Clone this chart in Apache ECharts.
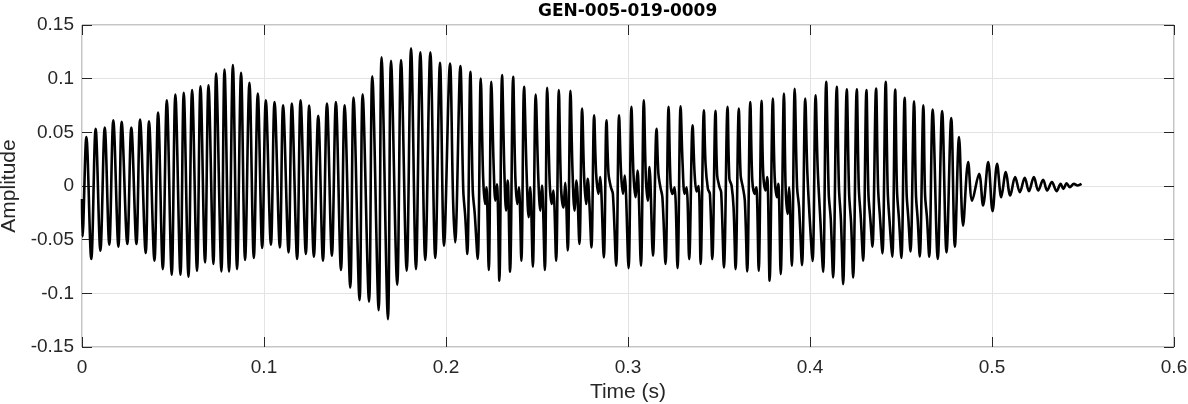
<!DOCTYPE html>
<html>
<head>
<meta charset="utf-8">
<script src="https://cdn.jsdelivr.net/npm/echarts@6/dist/echarts.min.js"></script>
<style>
  html, body { margin: 0; padding: 0; background: #fff; }
  #chart { width: 1188px; height: 404px; }
</style>
</head>
<body>
<div id="chart"></div>
<script>
// waveform, [time (s), amplitude], split by segment
const onset = [
  [0, -0.012], [0.0003, -0.047], [0.0024, 0.0456], [0.0051, -0.068], [0.0075, 0.0534],
  [0.0101, -0.0603], [0.0125, 0.0544], [0.0150, -0.0547], [0.0172, 0.0612], [0.0200, -0.0565],
  [0.0218, 0.0597], [0.0249, -0.054], [0.0271, 0.0544], [0.0299, -0.054], [0.0319, 0.0618],
  [0.0350, -0.0625], [0.0368, 0.0603], [0.0398, -0.0696], [0.0418, 0.0684], [0.0444, -0.0774],
  [0.0466, 0.0799], [0.0493, -0.0827], [0.0513, 0.0852], [0.0541, -0.0827], [0.0559, 0.0868],
  [0.0585, -0.0846], [0.0605, 0.0893], [0.0632, -0.079], [0.0651, 0.093], [0.0676, -0.0712],
  [0.0695, 0.0939], [0.0722, -0.0727], [0.0737, 0.1048], [0.0766, -0.0796], [0.0783, 0.1086],
  [0.0808, -0.0796], [0.0829, 0.1126], [0.0852, -0.0774], [0.0874, 0.1055], [0.0896, -0.069],
  [0.0920, 0.0961], [0.0944, -0.0671], [0.0966, 0.0861]
];

const swell = [
  [0.0990, -0.0578], [0.1010, 0.0799], [0.1038, -0.0547], [0.1058, 0.0783], [0.1087, -0.0572],
  [0.1105, 0.0752], [0.1135, -0.0618], [0.1153, 0.0768], [0.1182, -0.068], [0.1201, 0.0799],
  [0.1230, -0.0634], [0.1248, 0.0749], [0.1274, -0.0659], [0.1298, 0.0653], [0.1324, -0.0696],
  [0.1346, 0.0768], [0.1373, -0.065], [0.1395, 0.0783], [0.1423, -0.0783], [0.1443, 0.0752],
  [0.1474, -0.0946], [0.1492, 0.0824], [0.1525, -0.1064], [0.1542, 0.0855], [0.1577, -0.1077],
  [0.1595, 0.1023], [0.1630, -0.1157], [0.1646, 0.1198], [0.1681, -0.124], [0.1698, 0.1167],
  [0.1732, -0.0921], [0.1753, 0.1173], [0.1784, -0.079], [0.1808, 0.1282], [0.1835, -0.0774],
  [0.1859, 0.1245], [0.1886, -0.069]
];

const middleA = [
  [0.1914, 0.1245], [0.1941, -0.0671], [0.1967, 0.1148], [0.1989, -0.0556], [0.2022, 0.1142],
  [0.2039, -0.0136], [0.2050, -0.0525], [0.2079, 0.1117], [0.2095, -0.0042], [0.2106, -0.029],
  [0.2117, -0.0634], [0.2134, 0.1064], [0.2147, -0.004], [0.2158, -0.0261], [0.2174, -0.068],
  [0.2191, 0.1002], [0.2204, 0.0083], [0.2215, -0.0168], [0.2222, -0.0011], [0.2235, -0.0783],
  [0.2249, 0.097], [0.2262, 0.0176], [0.2271, -0.0136], [0.2280, 0.0017], [0.2293, -0.0883],
  [0.2308, 0.1033], [0.2321, 0.0114], [0.2330, -0.0229], [0.2339, 0.0051], [0.2352, -0.0799],
  [0.2369, 0.1017], [0.2381, 0.0083], [0.2392, -0.0168], [0.2401, -0.0011], [0.2414, -0.0696],
  [0.2429, 0.0924], [0.2443, 0.0114], [0.2454, -0.029], [0.2463, -0.0011], [0.2477, -0.0752],
  [0.2493, 0.0852], [0.2507, 0.0083], [0.2518, -0.0229], [0.2527, 0.0005], [0.2543, -0.0783],
  [0.2556, 0.0914], [0.2570, 0.002], [0.2581, -0.0168], [0.2590, -0.0042], [0.2605, -0.0696],
  [0.2620, 0.0893], [0.2632, -0.0011], [0.2645, -0.02], [0.2655, 0.003], [0.2669, -0.06]
];

const middleB = [
  [0.2684, 0.0886], [0.2695, 0.0145], [0.2706, -0.0229], [0.2717, 0.0051], [0.2733, -0.054],
  [0.2748, 0.0721], [0.2759, 0.0083], [0.2770, -0.0168], [0.2779, 0.0067], [0.2788, -0.0168],
  [0.2799, -0.0572], [0.2814, 0.0659], [0.2825, 0.0114], [0.2838, -0.0073], [0.2847, 0.0083],
  [0.2867, -0.0665], [0.2882, 0.0612], [0.2893, 0.0114], [0.2906, -0.0011], [0.2917, -0.0073],
  [0.2935, -0.0743], [0.2951, 0.0659], [0.2962, 0.0114], [0.2973, -0.0073], [0.2982, 0.0098],
  [0.3003, -0.0765], [0.3019, 0.0737], [0.3030, 0.0114], [0.3041, -0.0105], [0.3052, 0.0145],
  [0.3071, -0.0743], [0.3087, 0.0799], [0.3098, 0.0083], [0.3109, -0.0136], [0.3118, 0.0176],
  [0.3137, -0.065], [0.3157, 0.0534], [0.3167, 0.0114], [0.3178, -0.0011], [0.3189, -0.0105],
  [0.3206, -0.0727], [0.3223, 0.0737], [0.3234, 0.002], [0.3245, -0.0073], [0.3256, -0.0011],
  [0.3272, -0.0765], [0.3289, 0.0743], [0.3300, 0.0207], [0.3311, -0.0073], [0.3322, -0.0011],
  [0.3336, -0.0681], [0.3355, 0.0565], [0.3366, 0.0114], [0.3377, -0.005], [0.3388, 0.0],
  [0.3399, -0.0727]
];

const middleC = [
  [0.3417, 0.0706], [0.3426, 0.0207], [0.3439, -0.0027], [0.3450, -0.0073], [0.3463, -0.0681],
  [0.3481, 0.07], [0.3490, 0.0098], [0.3503, -0.0011], [0.3512, -0.0058], [0.3527, -0.0759],
  [0.3547, 0.0737], [0.3557, 0.0067], [0.3569, 0.0005], [0.3580, -0.0198], [0.3591, -0.0774],
  [0.3609, 0.0721], [0.3619, 0.0098], [0.3631, -0.0011], [0.3642, -0.0136], [0.3655, -0.0796],
  [0.3672, 0.0783], [0.3683, 0.0051], [0.3696, -0.0073], [0.3705, -0.0011], [0.3718, -0.079],
  [0.3734, 0.0793], [0.3743, 0.0114], [0.3756, -0.0042], [0.3765, 0.0083], [0.3778, -0.0883],
  [0.3796, 0.0815], [0.3806, 0.0083], [0.3819, -0.0105], [0.3826, 0.002], [0.3839, -0.0821],
  [0.3857, 0.0861], [0.3866, -0.0011], [0.3877, -0.026], [0.3885, -0.0011], [0.3900, -0.0743],
  [0.3916, 0.0905], [0.3929, -0.0011], [0.3940, -0.0198], [0.3956, -0.0738], [0.3974, 0.0815],
  [0.3985, 0.0145], [0.3998, -0.029], [0.4014, -0.0699], [0.4031, 0.0846], [0.4042, 0.0176],
  [0.4057, -0.032], [0.4072, -0.08]
];

const lateVoice = [
  [0.4089, 0.097], [0.4103, -0.0073], [0.4114, -0.0307], [0.4127, -0.0852], [0.4147, 0.0924],
  [0.4159, -0.0011], [0.4170, -0.0318], [0.4182, -0.0914], [0.4202, 0.0902], [0.4215, -0.0073],
  [0.4226, -0.035], [0.4237, -0.0852], [0.4257, 0.0902], [0.4268, -0.0011], [0.4279, -0.0291],
  [0.4292, -0.0696], [0.4310, 0.0893], [0.4321, -0.0073], [0.4332, -0.0318], [0.4343, -0.0565],
  [0.4363, 0.0908], [0.4374, -0.0011], [0.4385, -0.0305], [0.4398, -0.0628], [0.4416, 0.097],
  [0.4427, -0.0042], [0.4437, -0.0325], [0.4452, -0.0659], [0.4468, 0.0899], [0.4478, -0.0042],
  [0.4489, -0.031], [0.4502, -0.0671], [0.4520, 0.0821], [0.4531, -0.0073], [0.4540, -0.0291],
  [0.4552, -0.0609], [0.4572, 0.079], [0.4582, -0.0073], [0.4592, -0.0318], [0.4603, -0.0656],
  [0.4623, 0.0752], [0.4632, -0.0073], [0.4643, -0.03], [0.4655, -0.0659], [0.4674, 0.0712]
];

const decay = [
  [0.4702, -0.068], [0.4726, 0.0699], [0.4750, -0.0618], [0.4776, 0.0634], [0.4796, -0.0565],
  [0.4819, 0.0456], [0.4841, -0.0369], [0.4869, 0.0223], [0.4891, -0.0136], [0.4929, 0.0114],
  [0.4951, -0.0182], [0.4979, 0.0223], [0.5003, -0.0235], [0.5028, 0.0207], [0.5051, -0.0105],
  [0.5076, 0.0129], [0.5100, -0.0089], [0.5127, 0.0083], [0.5153, -0.0058], [0.5180, 0.0076],
  [0.5203, -0.0048], [0.5230, 0.0083], [0.5254, -0.0042], [0.5281, 0.0058], [0.5303, -0.0042],
  [0.5329, 0.0036], [0.5355, -0.0048], [0.5377, 0.002], [0.5392, -0.0027], [0.5410, 0.0026],
  [0.5428, -0.0011], [0.5450, 0.002], [0.5470, 0.0005], [0.5492, 0.002]
];

const waveform = [].concat(onset, swell, middleA, middleB, middleC, lateVoice, decay);

const chart = echarts.init(document.getElementById('chart'));

const tickFont = { fontFamily: 'Liberation Sans', fontSize: 19, color: '#262626' };
const frameTick = { show: true, inside: true, length: 10, lineStyle: { color: '#262626', width: 1 } };
const noLine = { show: false, onZero: false };
const grid = { show: true, lineStyle: { color: '#e3e3e3', width: 1 } };

const option = {
  animation: false,
  backgroundColor: '#fff',
  title: {
    text: 'GEN-005-019-0009',
    left: 538,
    top: 3,
    padding: 0,
    textStyle: { fontFamily: 'DejaVu Sans', fontWeight: 'bold', fontSize: 17, color: '#000' }
  },
  grid: {
    left: 82, right: 14, top: 25, bottom: 57,
    outerBoundsMode: 'none',
    containLabel: false,
    show: true, borderColor: '#8a8a8a', borderWidth: 1
  },
  xAxis: [
    {
      type: 'value', min: 0, max: 0.6, interval: 0.1, position: 'bottom',
      name: 'Time (s)', nameLocation: 'middle', nameGap: 29,
      nameTextStyle: { fontFamily: 'Liberation Sans', fontSize: 21, color: '#262626' },
      axisLine: noLine,
      axisTick: frameTick,
      axisLabel: Object.assign({ margin: 11 }, tickFont),
      splitLine: grid
    },
    {
      type: 'value', min: 0, max: 0.6, interval: 0.1, position: 'top',
      axisLine: noLine, axisTick: frameTick,
      axisLabel: { show: false }, splitLine: { show: false }
    }
  ],
  yAxis: [
    {
      type: 'value', min: -0.15, max: 0.15, interval: 0.05, position: 'left',
      name: 'Amplitude', nameLocation: 'middle', nameGap: 57, nameRotate: 90,
      nameTextStyle: { fontFamily: 'Liberation Sans', fontSize: 21, color: '#262626' },
      axisLine: noLine,
      axisTick: frameTick,
      axisLabel: Object.assign({ margin: 8 }, tickFont),
      splitLine: grid
    },
    {
      type: 'value', min: -0.15, max: 0.15, interval: 0.05, position: 'right',
      axisLine: noLine, axisTick: frameTick,
      axisLabel: { show: false }, splitLine: { show: false }
    }
  ],
  series: [
    {
      type: 'line',
      data: waveform,
      xAxisIndex: 0,
      yAxisIndex: 0,
      showSymbol: false,
      smooth: 0.35,
      lineStyle: { color: '#000', width: 2.6 }
    }
  ]
};

chart.setOption(option);
</script>
</body>
</html>
